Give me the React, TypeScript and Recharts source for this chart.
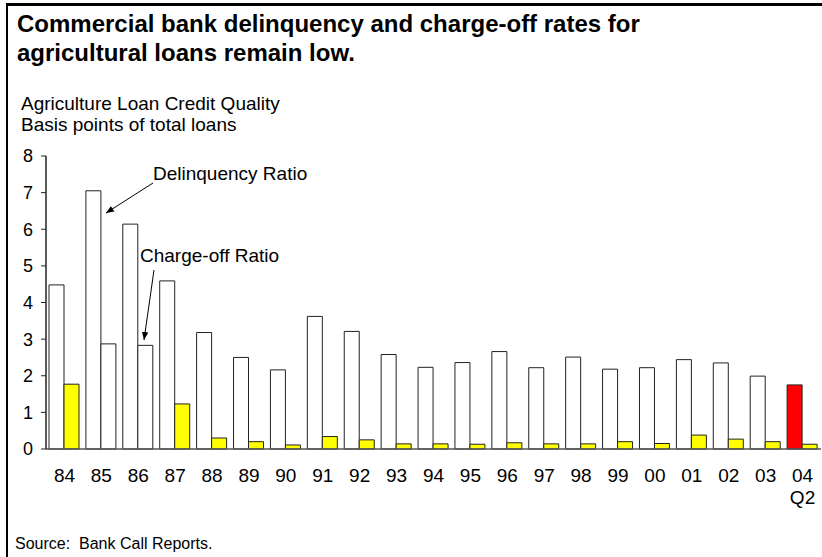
import { BarChart, Bar, XAxis, YAxis, Cell } from 'recharts'

const YEARS = ['84', '85', '86', '87', '88', '89', '90', '91', '92', '93', '94', '95', '96', '97', '98', '99', '00', '01', '02', '03', '04']
const DELINQUENCY = [4.48, 7.05, 6.14, 4.59, 3.18, 2.5, 2.16, 3.62, 3.21, 2.58, 2.23, 2.36, 2.66, 2.22, 2.51, 2.18, 2.22, 2.44, 2.35, 1.99, 1.75]
const CHARGE_OFF = [1.77, 2.87, 2.83, 1.23, 0.3, 0.2, 0.11, 0.34, 0.25, 0.14, 0.14, 0.13, 0.17, 0.14, 0.14, 0.2, 0.15, 0.38, 0.27, 0.2, 0.13]
const Y_TICKS = [0, 1, 2, 3, 4, 5, 6, 7, 8]
// last year is a partial year (second quarter)
const SUB_LABELS: Record<string, string> = { '04': 'Q2' }

const data = YEARS.map((year, i) => ({
  year,
  delinquency: DELINQUENCY[i],
  chargeOff: CHARGE_OFF[i],
}))

const FONT = '"Liberation Sans", Arial, Helvetica, sans-serif'

const delinquencyFill = (year: string) => (year === '04' ? '#ff0000' : '#ffffff')
const chargeOffFill = (year: string) => (year === '85' || year === '86' ? '#ffffff' : '#ffff00')

const YearTick = ({ x, y, payload }: any) => {
  const sub = SUB_LABELS[payload.value]
  return (
    <g>
      <text x={x} y={y} dy="0.71em" textAnchor="middle" fontSize={19} fill="#000" fontFamily={FONT}>
        {payload.value}
      </text>
      {sub && (
        <text x={x} y={y + 22} dy="0.71em" textAnchor="middle" fontSize={19} fill="#000" fontFamily={FONT}>
          {sub}
        </text>
      )}
    </g>
  )
}

export default function App() {
  return (
    <div
      style={{
        position: 'absolute',
        left: 0,
        top: 0,
        width: 822,
        height: 557,
        overflow: 'hidden',
        background: '#fff',
        fontFamily: FONT,
      }}
    >
      <div
        style={{
          position: 'absolute',
          left: 6,
          top: 3,
          width: 900,
          height: 700,
          borderLeft: '2px solid #000',
          borderTop: '3px solid #000',
        }}
      />
      <div style={{ position: 'absolute', left: 0, top: 0 }}>
        <BarChart
          width={822}
          height={557}
          data={data}
          margin={{ top: 156, right: 1, left: 6, bottom: 78 }}
          barCategoryGap={3}
          barGap={0}
        >
          <XAxis
            dataKey="year"
            height={30}
            tickLine={false}
            tickSize={0}
            tickMargin={20}
            axisLine={{ stroke: '#555', strokeWidth: 1.5 }}
            tick={<YearTick />}
            interval={0}
          />
          <YAxis
            width={40}
            domain={[0, 8]}
            ticks={Y_TICKS}
            interval={0}
            tickSize={5}
            tickMargin={8}
            axisLine={{ stroke: '#222', strokeWidth: 1.5 }}
            tickLine={{ stroke: '#222' }}
            tick={{ fontSize: 18, fill: '#000', fontFamily: FONT }}
          />
          <Bar dataKey="delinquency" stroke="#222" strokeWidth={1} isAnimationActive={false}>
            {data.map((d) => (
              <Cell key={d.year} fill={delinquencyFill(d.year)} />
            ))}
          </Bar>
          <Bar dataKey="chargeOff" stroke="#222" strokeWidth={1} isAnimationActive={false}>
            {data.map((d) => (
              <Cell key={d.year} fill={chargeOffFill(d.year)} />
            ))}
          </Bar>
        </BarChart>
      </div>
      <svg
        width={822}
        height={557}
        style={{ position: 'absolute', left: 0, top: 0, pointerEvents: 'none' }}
        fontFamily={FONT}
      >
        <defs>
          <marker id="head" viewBox="0 0 10 10" refX="10" refY="5" markerWidth="8" markerHeight="8" orient="auto">
            <path d="M0,1 L10,5 L0,9 z" fill="#000" />
          </marker>
        </defs>
        <text x={17} y={31.5} fontSize={24} fontWeight="bold" fill="#000">
          Commercial bank delinquency and charge-off rates for
        </text>
        <text x={17} y={61} fontSize={24} fontWeight="bold" fill="#000">
          agricultural loans remain low.
        </text>
        <text x={21} y={110} fontSize={19} fill="#000">Agriculture Loan Credit Quality</text>
        <text x={21} y={131} fontSize={19} fill="#000">Basis points of total loans</text>
        <text x={153} y={179.5} fontSize={19} fill="#000">Delinquency Ratio</text>
        <text x={140} y={262} fontSize={19} fill="#000">Charge-off Ratio</text>
        <line x1={153} y1={183} x2={106} y2={213} stroke="#000" strokeWidth={1} markerEnd="url(#head)" />
        <line x1={154} y1={270} x2={144} y2={340} stroke="#000" strokeWidth={1} markerEnd="url(#head)" />
        <text x={15} y={549} fontSize={16} fill="#000" style={{ whiteSpace: 'pre' }}>
          {'Source:  Bank Call Reports.'}
        </text>
      </svg>
    </div>
  )
}
